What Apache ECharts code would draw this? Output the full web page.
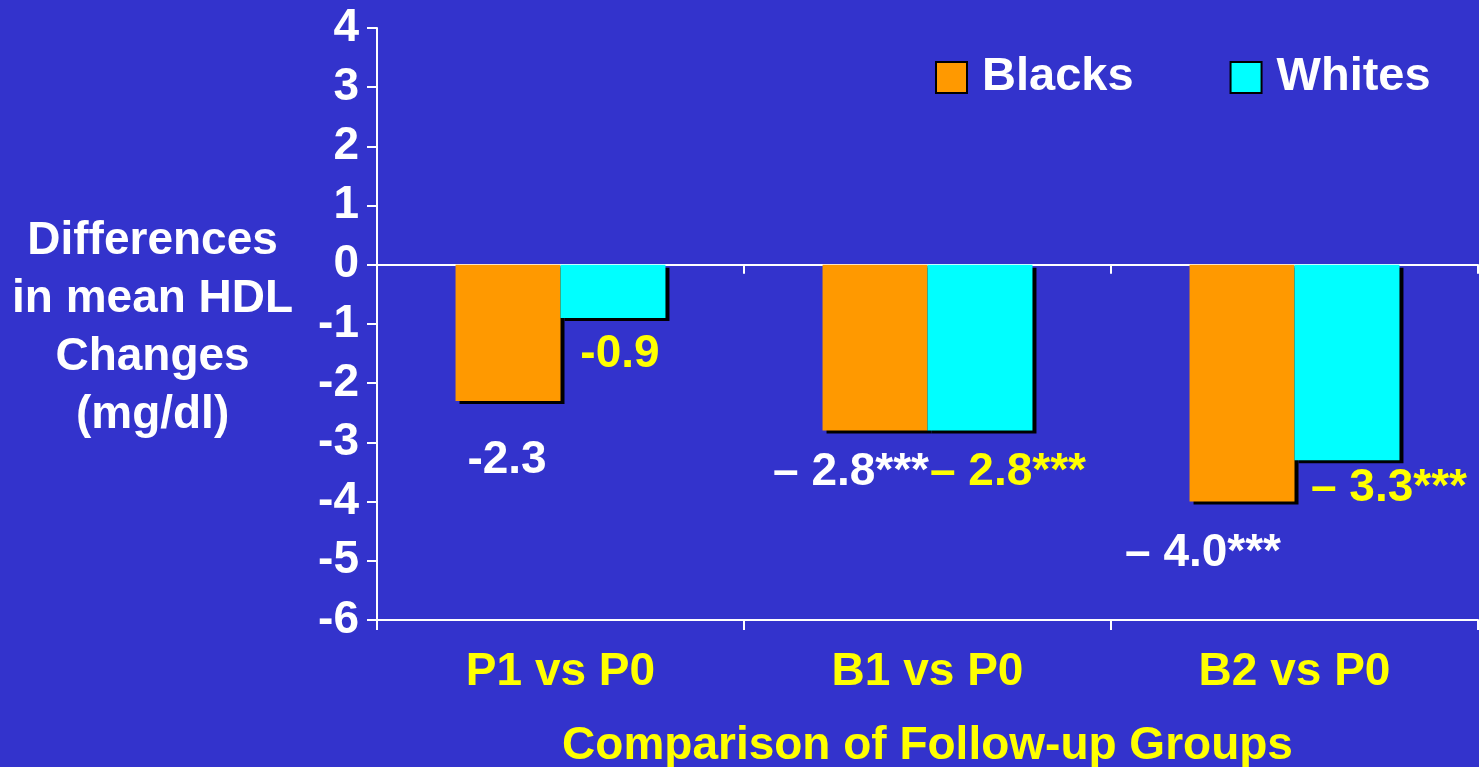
<!DOCTYPE html>
<html>
<head>
<meta charset="utf-8">
<title>Differences in mean HDL Changes</title>
<script src="https://cdn.jsdelivr.net/npm/echarts@6/dist/echarts.min.js"></script>
<style>
  html, body { margin: 0; padding: 0; background: #3333CC; }
  #chart { width: 1479px; height: 767px; }
</style>
</head>
<body>
<div id="chart"></div>
<script>
// Comparison groups on the category axis
const categories = ['P1 vs P0', 'B1 vs P0', 'B2 vs P0'];
// Differences in mean HDL changes (mg/dl)
const blacks = [-2.3, -2.8, -4.0];
const whites = [-0.9, -2.8, -3.3];
// Significance flags (*** marks)
const blacksSig = [false, true, true];
const whitesSig = [false, true, true];
// Value axis ticks
const yTicks = { min: -6, max: 4, interval: 1 };

const FONT = '"Liberation Sans", Arial, sans-serif';
const FS = 46;
const WHITE = '#FFFFFF';
const YELLOW = '#FFFF00';

function fmt(sig) {
  return function (p) {
    const v = p.value;
    if (sig[p.dataIndex]) return '\u2013 ' + Math.abs(v).toFixed(1) + '***';
    return v.toFixed(1);
  };
}

// per-bar label nudges (px)
const blacksOffsets = [[-1, 31], [-24, 14], [-39, 24]];
const whitesOffsets = [[7, 8], [28, 14], [42, 0]];

function buildData(values, offsets) {
  return values.map((v, i) => ({ value: v, label: { offset: offsets[i] } }));
}

// flat fill with a hard black drop shadow to the lower right
const barStyle = (color) => ({
  color: color,
  borderWidth: 0,
  shadowColor: '#000',
  shadowBlur: 0,
  shadowOffsetX: 4,
  shadowOffsetY: 3
});

const chart = echarts.init(document.getElementById('chart'), null, { renderer: 'canvas' });

chart.setOption({
  backgroundColor: '#3333CC',
  animation: false,
  textStyle: { fontFamily: FONT },
  grid: { left: 377, right: 1, top: 28, bottom: 147, containLabel: false, outerBoundsMode: 'none' },
  legend: {
    left: 930,
    top: 49,
    itemWidth: 31,
    itemHeight: 31,
    itemGap: 96,
    icon: 'rect',
    textStyle: { color: WHITE, fontSize: 47, fontWeight: 'bold', fontFamily: FONT, padding: [0, 0, 0, 10] },
    itemStyle: { shadowColor: 'transparent', shadowOffsetX: 0, shadowOffsetY: 0, borderWidth: 2, borderColor: '#000' },
    data: ['Blacks', 'Whites']
  },
  graphic: [{
    type: 'text',
    left: 12,
    top: 212,
    style: {
      text: 'Differences\nin mean HDL\nChanges\n(mg/dl)',
      fill: WHITE,
      font: 'bold ' + FS + 'px ' + FONT,
      lineHeight: 58,
      align: 'center',
      textAlign: 'center'
    }
  }],
  xAxis: [
    {
      // line at zero
      type: 'category',
      data: categories,
      position: 'bottom',
      axisLine: { onZero: true, lineStyle: { color: WHITE, width: 2 } },
      axisTick: { show: true, length: 9, lineStyle: { color: WHITE, width: 2 } },
      axisLabel: { show: false },
      splitLine: { show: false }
    },
    {
      type: 'category',
      data: categories,
      position: 'bottom',
      axisLine: { onZero: false, lineStyle: { color: WHITE, width: 2 } },
      axisTick: { show: true, length: 10, lineStyle: { color: WHITE, width: 2 } },
      axisLabel: { color: YELLOW, fontSize: FS, fontWeight: 'bold', fontFamily: FONT, margin: 29 },
      name: 'Comparison of Follow-up Groups',
      nameLocation: 'middle',
      nameGap: 103,
      nameTextStyle: { color: YELLOW, fontSize: FS, fontWeight: 'bold', fontFamily: FONT },
      splitLine: { show: false }
    }
  ],
  yAxis: {
    type: 'value',
    min: yTicks.min,
    max: yTicks.max,
    interval: yTicks.interval,
    axisLine: { show: true, lineStyle: { color: WHITE, width: 2 } },
    axisTick: { show: true, length: 10, lineStyle: { color: WHITE, width: 2 } },
    axisLabel: { color: WHITE, fontSize: FS, fontWeight: 'bold', fontFamily: FONT, margin: 18 },
    splitLine: { show: false }
  },
  series: [
    {
      name: 'Blacks',
      type: 'bar',
      xAxisIndex: 0,
      data: buildData(blacks, blacksOffsets),
      barWidth: '28.6%',
      barGap: '0%',
      itemStyle: barStyle('#FF9900'),
      label: {
        show: true,
        position: 'bottom',
        distance: 5,
        formatter: fmt(blacksSig),
        color: WHITE,
        fontSize: FS,
        fontWeight: 'bold',
        fontFamily: FONT
      }
    },
    {
      name: 'Whites',
      type: 'bar',
      xAxisIndex: 0,
      data: buildData(whites, whitesOffsets),
      barWidth: '28.6%',
      barGap: '0%',
      itemStyle: barStyle('#00FFFF'),
      label: {
        show: true,
        position: 'bottom',
        distance: 5,
        formatter: fmt(whitesSig),
        color: YELLOW,
        fontSize: FS,
        fontWeight: 'bold',
        fontFamily: FONT
      }
    }
  ]
});
</script>
</body>
</html>
